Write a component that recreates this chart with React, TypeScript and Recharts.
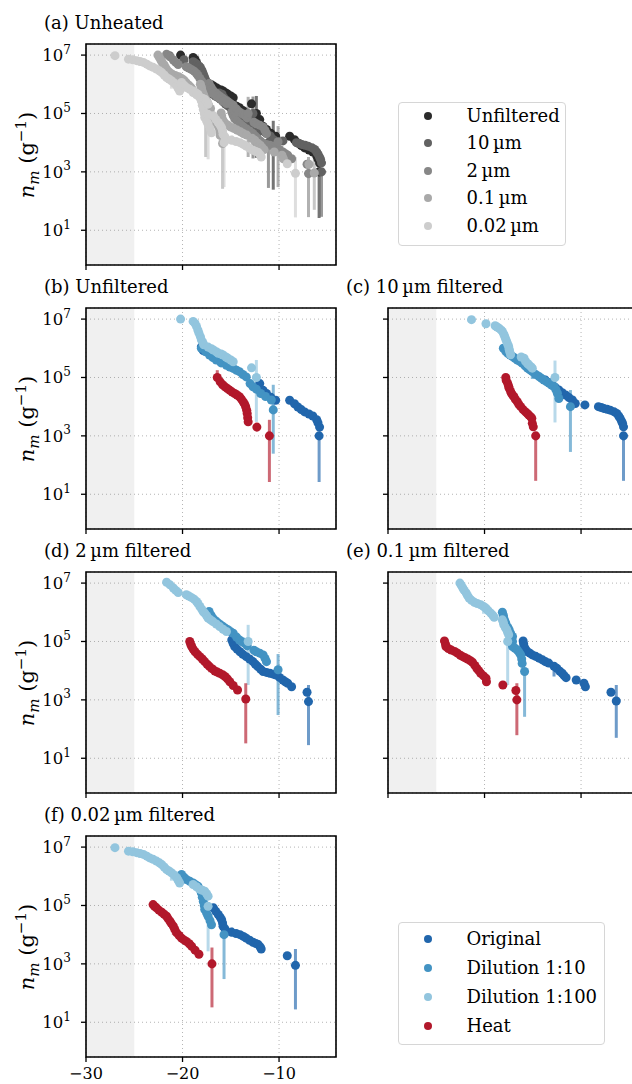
import React from "react";
import {
  ScatterChart,
  Scatter,
  XAxis,
  YAxis,
  ZAxis,
  CartesianGrid,
  ReferenceArea,
  ErrorBar,
} from "recharts";

// point = [x, log10 n_m] or [x, log10 n_m, log10 low, log10 high] when it carries an error bar
type Pt = number[];

// (b) unfiltered
const unfOriginal: Pt[] = [
  [-18.05, 6.05], [-17.85, 5.92], [-12.0, 4.79], [-11.65, 4.56], [-11.3, 4.45], [-10.85, 4.32], [-10.35, 4.22],
  [-8.9, 4.22], [-8.4, 4.1], [-8.05, 3.99], [-7.7, 3.9], [-7.35, 3.82], [-6.9, 3.75], [-6.5, 3.68],
  [-6.1, 3.55], [-5.97, 3.45], [-5.8, 3.3], [-5.85, 3.0, 1.42, 3.0],
];
const unfDil10: Pt[] = [
  [-18.05, 6.0], [-17.6, 5.88], [-17.2, 5.77], [-16.85, 5.68], [-16.5, 5.6], [-16.0, 5.5], [-15.45, 5.42],
  [-15.1, 5.36], [-14.75, 5.31], [-14.4, 5.25], [-14.1, 5.2], [-13.75, 5.1], [-13.4, 5.02], [-13.0, 4.79],
  [-12.7, 4.68], [-12.35, 4.6], [-11.9, 4.45], [-11.4, 4.35], [-10.8, 4.23], [-10.6, 3.89, 2.39, 4.75],
];
const unfDil100: Pt[] = [
  [-20.2, 7.0], [-18.9, 6.92], [-18.7, 6.85], [-18.55, 6.75], [-18.4, 6.62], [-18.3, 6.52], [-18.15, 6.4],
  [-18.05, 6.29], [-17.9, 6.2, 5.95, 6.3], [-17.8, 6.12], [-17.35, 6.04], [-17.0, 5.98], [-16.8, 5.94], [-16.5, 5.88],
  [-16.3, 5.83], [-16.0, 5.8], [-15.8, 5.77], [-15.5, 5.7], [-15.3, 5.66], [-15.0, 5.6], [-14.75, 5.54],
  [-12.85, 5.33], [-12.35, 5.0, 3.48, 5.6],
];
const unfHeat: Pt[] = [
  [-16.4, 5.0, 4.9, 5.25], [-16.1, 4.85], [-15.85, 4.75], [-15.6, 4.68], [-15.35, 4.62], [-15.1, 4.56], [-14.85, 4.5],
  [-14.6, 4.45], [-14.35, 4.4], [-14.1, 4.34], [-13.9, 4.26], [-13.7, 4.16], [-13.55, 4.08], [-13.45, 3.99],
  [-13.35, 3.88], [-13.3, 3.77], [-13.25, 3.62], [-13.2, 3.48], [-12.3, 3.3], [-11.0, 3.0, 1.42, 3.55],
];

// (c) 10 um filtered
const tenOriginal: Pt[] = [
  [-13.7, 4.91], [-13.35, 4.83], [-13.0, 4.74], [-12.65, 4.65], [-12.3, 4.57], [-11.95, 4.48], [-11.6, 4.4],
  [-11.25, 4.31], [-10.9, 4.23], [-10.6, 4.11], [-9.6, 4.06], [-8.2, 4.0], [-7.9, 3.97], [-7.65, 3.94],
  [-7.3, 3.91], [-6.98, 3.88], [-6.6, 3.83], [-6.3, 3.77], [-6.1, 3.68], [-5.95, 3.6], [-5.8, 3.5],
  [-5.7, 3.43], [-5.6, 3.31], [-5.6, 3.0, 1.46, 3.0],
];
const tenDil10: Pt[] = [
  [-18.05, 6.0], [-17.8, 5.9], [-17.6, 5.83], [-17.35, 5.77], [-17.1, 5.72], [-16.85, 5.66], [-16.6, 5.6],
  [-16.35, 5.55], [-16.1, 5.49], [-15.8, 5.4], [-15.55, 5.32], [-15.3, 5.26], [-15.05, 5.2, 4.95, 5.35],
  [-14.7, 5.1], [-14.35, 5.03], [-14.1, 4.97], [-13.85, 4.91], [-13.55, 4.85], [-13.3, 4.8], [-13.05, 4.74],
  [-12.8, 4.69], [-12.6, 4.58], [-12.45, 4.46], [-12.3, 4.28], [-11.1, 4.0, 2.45, 4.57],
];
const tenDil100: Pt[] = [
  [-21.35, 6.98], [-19.85, 6.84], [-18.9, 6.77], [-18.7, 6.73], [-18.5, 6.69], [-18.3, 6.63], [-18.15, 6.58],
  [-18.0, 6.48], [-17.9, 6.4], [-17.8, 6.31], [-17.7, 6.23], [-17.6, 6.14], [-17.5, 6.06], [-17.45, 5.97],
  [-17.4, 5.89], [-17.3, 5.78], [-16.2, 5.7], [-15.9, 5.66], [-15.75, 5.55], [-15.55, 5.48], [-15.4, 5.43],
  [-15.2, 5.37], [-15.05, 5.32], [-12.7, 5.0, 3.46, 5.58],
];
const tenHeat: Pt[] = [
  [-17.8, 5.0], [-17.75, 4.9], [-17.6, 4.8], [-17.5, 4.7], [-17.45, 4.63], [-17.3, 4.52], [-17.2, 4.45],
  [-17.05, 4.38], [-16.95, 4.34], [-16.8, 4.25], [-16.6, 4.17], [-16.45, 4.08], [-16.25, 4.0, 3.85, 4.15],
  [-16.0, 3.9], [-15.75, 3.82], [-15.55, 3.76], [-15.4, 3.71], [-15.2, 3.65], [-15.1, 3.6], [-15.05, 3.43],
  [-14.95, 3.31], [-14.7, 3.0, 1.46, 3.0],
];

// (d) 2 um filtered
const twoOriginal: Pt[] = [
  [-14.9, 5.05], [-14.75, 4.93], [-14.6, 4.83], [-14.35, 4.74], [-14.05, 4.65], [-13.75, 4.56], [-13.4, 4.48],
  [-13.05, 4.4], [-12.7, 4.31], [-12.45, 4.22], [-12.2, 4.14], [-11.9, 4.05], [-11.65, 3.97], [-11.3, 3.94],
  [-10.95, 3.91], [-10.6, 3.88], [-10.3, 3.85], [-9.95, 3.77], [-9.6, 3.68], [-9.35, 3.62], [-9.1, 3.57],
  [-8.7, 3.45], [-7.1, 3.26], [-6.95, 2.94, 1.45, 3.51],
];
const twoDil10: Pt[] = [
  [-17.25, 6.03], [-17.05, 5.9], [-16.85, 5.8], [-16.55, 5.7], [-16.3, 5.63], [-16.05, 5.57], [-15.8, 5.51],
  [-15.55, 5.45], [-15.3, 5.4], [-15.0, 5.33], [-14.75, 5.28], [-14.4, 5.15], [-14.1, 5.05], [-13.8, 4.99],
  [-13.55, 4.94], [-13.3, 4.85], [-12.6, 4.7], [-12.35, 4.65], [-12.0, 4.6], [-11.65, 4.54], [-11.45, 4.42],
  [-11.3, 4.31], [-10.1, 4.03, 2.48, 4.57],
];
const twoDil100: Pt[] = [
  [-21.65, 7.03], [-21.3, 6.94], [-20.95, 6.83], [-20.7, 6.75], [-20.45, 6.68], [-19.6, 6.6], [-19.35, 6.56],
  [-19.1, 6.51], [-18.8, 6.45], [-18.55, 6.37], [-18.4, 6.3], [-18.2, 6.2], [-18.0, 6.1], [-17.85, 6.02],
  [-17.7, 5.97], [-17.5, 5.88], [-17.35, 5.8], [-17.1, 5.74], [-16.85, 5.68], [-16.5, 5.6], [-16.15, 5.51],
  [-15.8, 5.42], [-15.45, 5.34], [-13.2, 5.0, 3.51, 5.57],
];
const twoHeat: Pt[] = [
  [-19.25, 5.0], [-19.15, 4.9], [-19.05, 4.83], [-18.9, 4.74], [-18.7, 4.65], [-18.45, 4.56], [-18.2, 4.48],
  [-17.95, 4.4], [-17.7, 4.31], [-17.45, 4.22], [-17.2, 4.14, 3.95, 4.3], [-16.9, 4.06], [-16.65, 3.99],
  [-16.4, 3.95], [-16.15, 3.91], [-15.85, 3.86], [-15.6, 3.8], [-15.35, 3.72], [-15.1, 3.62], [-14.75, 3.49],
  [-14.3, 3.34], [-13.45, 3.03, 1.51, 3.57],
];

// (e) 0.1 um filtered
const tenthOriginal: Pt[] = [
  [-16.0, 5.02], [-15.95, 4.92], [-15.9, 4.83], [-15.75, 4.74], [-15.55, 4.65], [-15.3, 4.6], [-15.05, 4.54],
  [-14.7, 4.49], [-14.35, 4.43], [-14.0, 4.37], [-13.7, 4.31], [-13.35, 4.26], [-12.8, 4.15, 3.8, 4.2],
  [-12.5, 4.08], [-12.2, 3.98], [-11.95, 3.91], [-11.75, 3.83], [-11.55, 3.76], [-10.5, 3.68], [-9.7, 3.57],
  [-9.55, 3.45], [-6.9, 3.26], [-6.35, 2.96, 1.7, 3.51],
];
const tenthDil10: Pt[] = [
  [-18.15, 6.0], [-18.05, 5.9], [-18.0, 5.8], [-17.9, 5.7], [-17.8, 5.63], [-17.6, 5.5], [-17.45, 5.4],
  [-17.3, 5.28], [-17.1, 5.17], [-17.1, 5.0], [-17.1, 4.83], [-16.85, 4.77], [-16.6, 4.71], [-16.4, 4.62],
  [-16.25, 4.54], [-16.15, 4.4], [-16.1, 4.25], [-15.85, 3.97, 2.42, 4.03],
];
const tenthDil100: Pt[] = [
  [-22.55, 7.0], [-22.4, 6.92], [-22.25, 6.83], [-22.1, 6.75], [-21.9, 6.66], [-21.75, 6.57], [-21.6, 6.49],
  [-21.35, 6.41], [-21.05, 6.34], [-20.75, 6.3], [-20.4, 6.26], [-20.1, 6.2, 5.95, 6.3], [-19.85, 6.14],
  [-19.6, 6.05], [-19.35, 5.97], [-19.15, 5.9], [-19.0, 5.83], [-18.15, 5.74], [-18.05, 5.65], [-18.0, 5.57],
  [-17.85, 5.48], [-17.7, 5.4], [-17.6, 5.31], [-17.5, 5.23], [-17.6, 5.0, 3.51, 5.0],
];
const tenthHeat: Pt[] = [
  [-24.15, 5.02], [-24.05, 4.92], [-24.0, 4.83], [-23.75, 4.76], [-23.45, 4.71], [-23.1, 4.66], [-22.8, 4.6],
  [-22.5, 4.53], [-22.25, 4.48], [-22.0, 4.44], [-21.75, 4.4], [-21.5, 4.35], [-21.25, 4.29], [-21.0, 4.18],
  [-20.8, 4.08], [-20.6, 4.0], [-20.4, 3.91], [-20.1, 3.82], [-19.85, 3.74], [-19.8, 3.62], [-18.1, 3.51],
  [-16.75, 3.32], [-16.65, 3.0, 1.79, 3.57],
];

// (f) 0.02 um filtered
const fineOriginal: Pt[] = [
  [-16.8, 4.92], [-16.55, 4.8], [-16.3, 4.69], [-16.1, 4.6], [-15.95, 4.51], [-15.85, 4.4], [-15.8, 4.29],
  [-15.6, 4.2], [-15.45, 4.11], [-14.9, 4.08, 3.95, 4.25], [-14.45, 4.04], [-14.05, 4.0], [-13.7, 3.94],
  [-13.4, 3.88], [-13.05, 3.81], [-12.7, 3.74], [-12.4, 3.7], [-12.15, 3.66], [-11.95, 3.58], [-11.85, 3.51],
  [-9.15, 3.28], [-8.3, 2.95, 1.44, 3.51],
];
const fineDil10: Pt[] = [
  [-20.1, 6.06], [-19.85, 5.97], [-19.6, 5.89], [-19.25, 5.83], [-18.9, 5.77], [-18.65, 5.71], [-18.4, 5.66],
  [-18.2, 5.55], [-18.05, 5.43], [-17.95, 5.28], [-17.85, 5.14], [-17.75, 5.0], [-17.7, 4.86], [-17.5, 4.74],
  [-17.35, 4.63], [-17.15, 4.48], [-17.0, 4.34], [-15.7, 4.0, 2.48, 4.51],
];
const fineDil100: Pt[] = [
  [-27.0, 6.98], [-25.6, 6.86], [-25.15, 6.84], [-24.75, 6.81], [-24.4, 6.78], [-24.05, 6.75], [-23.7, 6.69],
  [-23.4, 6.63], [-23.05, 6.58], [-22.7, 6.52], [-22.4, 6.46], [-22.15, 6.4], [-21.9, 6.32], [-21.65, 6.23],
  [-21.4, 6.18], [-21.15, 6.12, 5.85, 6.2], [-20.85, 6.04], [-20.6, 5.95], [-20.45, 5.86], [-20.3, 5.77],
  [-18.9, 5.72], [-18.55, 5.64], [-18.2, 5.55], [-17.95, 5.52], [-17.7, 5.49], [-17.5, 5.4], [-17.35, 5.32],
  [-17.35, 4.97, 3.43, 4.97],
];
const fineHeat: Pt[] = [
  [-23.05, 5.03], [-22.9, 4.97], [-22.7, 4.92], [-22.45, 4.84], [-22.15, 4.77], [-21.9, 4.7], [-21.65, 4.63],
  [-21.5, 4.55], [-21.3, 4.46], [-21.15, 4.38], [-20.95, 4.29, 4.0, 4.35], [-20.8, 4.18], [-20.6, 4.06],
  [-20.35, 3.97], [-20.1, 3.88], [-19.85, 3.82], [-19.6, 3.77], [-19.3, 3.69], [-19.05, 3.6], [-18.7, 3.47],
  [-18.3, 3.33], [-16.95, 3.0, 1.51, 3.56],
];

const filterNames = ["Unfiltered", "10\u2009\u00b5m", "2\u2009\u00b5m", "0.1\u2009\u00b5m", "0.02\u2009\u00b5m"];
const filterGreys = ["#2b2b2b", "#626262", "#878787", "#a9a9a9", "#cdcdcd"];
const treatNames = ["Original", "Dilution 1:10", "Dilution 1:100", "Heat"];
const treatColors = ["#2166ac", "#4393c3", "#92c5de", "#b2182b"];
const filterSets: Pt[][][] = [
  [unfOriginal, unfDil10, unfDil100, unfHeat],
  [tenOriginal, tenDil10, tenDil100, tenHeat],
  [twoOriginal, twoDil10, twoDil100, twoHeat],
  [tenthOriginal, tenthDil10, tenthDil100, tenthHeat],
  [fineOriginal, fineDil10, fineDil100, fineHeat],
];
const xTicks = [-30, -20, -10];
const yTicks = [1, 3, 5, 7];
const xDomain = [-30, -4.1];
const yDomain = [-0.19, 7.38];
const shadeEdge = -25;

const FONT = "'DejaVu Serif', serif";
const PLOT_W = 250;
const PLOT_H = 221;
const AXIS_W = 86;

type Series = { pts: Pt[]; color: string };

const toRows = (pts: Pt[]) =>
  pts.map((p) => ({
    x: p[0],
    y: p[1],
    err: p.length > 2 ? [p[1] - p[2], p[3] - p[1]] : null,
  }));

const withAlpha = (hex: string, a: number) => {
  const v = parseInt(hex.slice(1), 16);
  return `rgba(${v >> 16}, ${(v >> 8) & 255}, ${v & 255}, ${a})`;
};

const Panel = ({
  left,
  top,
  title,
  series,
  yLabels,
  xLabels,
}: {
  left: number;
  top: number;
  title: string;
  series: Series[];
  yLabels: boolean;
  xLabels: boolean;
}) => {
  const xAxisH = xLabels ? 26 : 6;
  const rows = series.map((s) => toRows(s.pts));
  return (
    <>
      <div
        style={{
          position: "absolute",
          left: left - 42,
          top: top - 30,
          fontSize: 18,
          lineHeight: "18px",
          whiteSpace: "nowrap",
        }}
      >
        {title}
      </div>
      {yLabels && (
        <div
          style={{
            position: "absolute",
            left: 28,
            top: top + PLOT_H / 2,
            transform: "translate(-50%, -50%) rotate(-90deg)",
            fontSize: 21,
            lineHeight: "21px",
            whiteSpace: "nowrap",
          }}
        >
          <i>n</i>
          <sub style={{ fontSize: 15, fontStyle: "italic" }}>m</sub> (g
          <sup style={{ fontSize: 15 }}>{"\u22121"}</sup>)
        </div>
      )}
      <div style={{ position: "absolute", left: left - AXIS_W, top: top - 2 }}>
        <ScatterChart
          width={AXIS_W + PLOT_W + 4}
          height={PLOT_H + 2 + xAxisH}
          margin={{ top: 2, right: 4, bottom: 0, left: 0 }}
        >
          <ReferenceArea
            x1={xDomain[0]}
            x2={shadeEdge}
            fill="#808080"
            fillOpacity={0.118}
            stroke="none"
            ifOverflow="visible"
          />
          <CartesianGrid stroke="#b4b4b4" strokeDasharray="1 3" strokeWidth={1} />
          <XAxis
            type="number"
            dataKey="x"
            domain={xDomain}
            ticks={xTicks}
            allowDataOverflow
            height={xAxisH}
            axisLine={false}
            tickSize={5}
            tickLine={{ stroke: "#000", strokeWidth: 1.3 }}
            tick={(p: any) =>
              xLabels ? (
                <text x={p.x} y={p.y + 15} textAnchor="middle" fontFamily={FONT} fontSize={16} fill="#000">
                  {"\u2212" + Math.abs(p.payload.value)}
                </text>
              ) : (
                <g />
              )
            }
          />
          <YAxis
            type="number"
            dataKey="y"
            domain={yDomain}
            ticks={yTicks}
            allowDataOverflow
            width={AXIS_W}
            axisLine={false}
            tickSize={5}
            tickMargin={10}
            tickLine={{ stroke: "#000", strokeWidth: 1.3 }}
            tick={(p: any) =>
              yLabels ? (
                <text x={p.x} y={p.y + 6} textAnchor="end" fontFamily={FONT} fontSize={16.5} fill="#000">
                  10
                  <tspan dy={-7.5} fontSize={12}>
                    {p.payload.value}
                  </tspan>
                </text>
              ) : (
                <g />
              )
            }
          />
          <ZAxis range={[62, 62]} />
          {rows.map((r, i) => (
            <Scatter
              key={"err" + i}
              data={r.filter((d) => d.err)}
              shape={() => <g />}
              isAnimationActive={false}
            >
              <ErrorBar
                dataKey="err"
                direction="y"
                width={0}
                stroke={withAlpha(series[i].color, 0.65)}
                strokeWidth={3}
                isAnimationActive={false}
              />
            </Scatter>
          ))}
          {rows.map((r, i) => (
            <Scatter key={"pts" + i} data={r} fill={series[i].color} isAnimationActive={false} />
          ))}
          <ReferenceArea
            x1={xDomain[0]}
            x2={xDomain[1]}
            y1={yDomain[0]}
            y2={yDomain[1]}
            fill="none"
            stroke="#000"
            strokeWidth={1.6}
            ifOverflow="visible"
          />
        </ScatterChart>
      </div>
    </>
  );
};

const KeyBox = ({
  left,
  top,
  width,
  height,
  first,
  gap,
  labels,
  colors,
}: {
  left: number;
  top: number;
  width: number;
  height: number;
  first: number;
  gap: number;
  labels: string[];
  colors: string[];
}) => (
  <div
    style={{
      position: "absolute",
      left,
      top,
      width,
      height,
      boxSizing: "border-box",
      border: "1.5px solid #d6d6d6",
      borderRadius: 4,
      background: "#fff",
    }}
  >
    {labels.map((lab, i) => (
      <div
        key={lab}
        style={{ position: "absolute", left: 0, top: first + i * gap - 9, height: 18, width: width - 3 }}
      >
        <span
          style={{
            position: "absolute",
            left: 24.5,
            top: 5,
            width: 8,
            height: 8,
            borderRadius: "50%",
            background: colors[i],
          }}
        />
        <span
          style={{
            position: "absolute",
            left: 67.5,
            top: 0,
            fontSize: 18,
            lineHeight: "18px",
            whiteSpace: "nowrap",
          }}
        >
          {lab}
        </span>
      </div>
    ))}
  </div>
);

const titles = [
  "(b) Unfiltered",
  "(c) 10\u2009\u00b5m filtered",
  "(d) 2\u2009\u00b5m filtered",
  "(e) 0.1\u2009\u00b5m filtered",
  "(f) 0.02\u2009\u00b5m filtered",
];
const spots = [
  [86, 308],
  [388, 308],
  [86, 572],
  [388, 572],
  [86, 836],
];

export default function App() {
  // unheated panel: every dilution of a filter level in one grey
  const unheated: Series[] = filterSets.map((set, i) => ({
    pts: [...set[0], ...set[1], ...set[2]],
    color: filterGreys[i],
  }));
  return (
    <div
      style={{
        position: "absolute",
        left: 0,
        top: 0,
        width: 632,
        height: 1084,
        overflow: "hidden",
        background: "#fff",
        fontFamily: FONT,
        color: "#000",
      }}
    >
      <Panel left={86} top={44} title="(a) Unheated" series={unheated} yLabels xLabels={false} />
      {filterSets.map((set, i) => (
        <Panel
          key={titles[i]}
          left={spots[i][0]}
          top={spots[i][1]}
          title={titles[i]}
          series={set.map((pts, j) => ({ pts, color: treatColors[j] }))}
          yLabels={spots[i][0] < 200}
          xLabels={i === 4}
        />
      ))}
      <KeyBox
        left={398}
        top={102}
        width={168}
        height={144}
        first={12.5}
        gap={27.5}
        labels={filterNames}
        colors={filterGreys}
      />
      <KeyBox
        left={398}
        top={922}
        width={207}
        height={123}
        first={15.8}
        gap={29.2}
        labels={treatNames}
        colors={treatColors}
      />
    </div>
  );
}
